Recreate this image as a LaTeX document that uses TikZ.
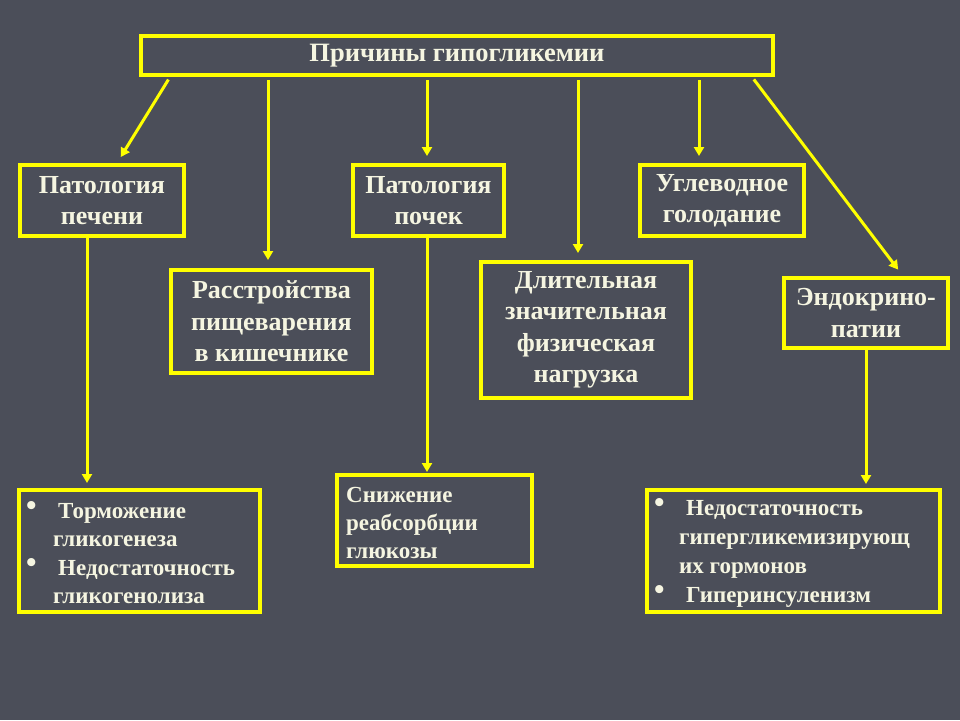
\documentclass[tikz,border=0pt]{standalone}
\usepackage{fontspec}
\setmainfont{Liberation Serif}
\usetikzlibrary{arrows.meta}
\definecolor{bg}{RGB}{75,78,89}
\definecolor{yel}{RGB}{255,255,0}
\definecolor{txt}{RGB}{245,245,225}
\newcommand{\bul}{\raisebox{3pt}{\fontsize{30}{30}\selectfont •}}
\begin{document}
\begin{tikzpicture}[x=1pt,y=-1pt,
  box/.style={draw=yel, line width=4pt, inner sep=0pt, text=txt, align=center,
    font=\fontsize{26}{31.5}\selectfont\bfseries},
  txtnode/.style={inner sep=0pt, text=txt, font=\fontsize{23}{28.5}\selectfont\bfseries},
  arr/.style={draw=yel, line width=3pt, -{Triangle[length=9pt,width=10pt]}}]
\fill[bg] (0,0) rectangle (960,720);
\useasboundingbox (0,0) rectangle (960,720);
% top
\node[box, minimum width=632pt, minimum height=39pt, font=\fontsize{26.5}{31}\selectfont\bfseries] (title) at (457,55.5) {Причины гипогликемии};
% level 1
\node[box, minimum width=164pt, minimum height=71pt] (pech) at (102,200.5) {Патология\\печени};
\node[box, minimum width=151pt, minimum height=71pt] (poch) at (428.5,200.5) {Патология\\почек};
\node[box, minimum width=164pt, minimum height=71pt] (uglev) at (722,200.5) {Углеводное\\голодание};
\node[box, minimum width=201pt, minimum height=103pt] (rasst) at (271.5,321.5) {Расстройства\\пищеварения\\в кишечнике};
\node[box, minimum width=210pt, minimum height=136pt] (dlit) at (586,330) {Длительная\\значительная\\физическая\\нагрузка};
\node[box, minimum width=164pt, minimum height=70pt] (endo) at (866,313) {Эндокрино-\\патии};
% bottom boxes
\node[box, minimum width=241pt, minimum height=122pt] (b1) at (139.5,551) {};
\node[box, minimum width=195pt, minimum height=91pt] (snizh) at (434.5,520.5) {};
\node[box, minimum width=293pt, minimum height=122pt] (b3) at (793.5,551) {};
\node[txtnode, anchor=base west] (b1t) at (26,518) {\begin{tabular}[t]{@{}p{27pt}@{}l@{}}
\bul & \hspace{5pt}Торможение\\
 & гликогенеза\\
\bul & \hspace{5pt}Недостаточность\\
 & гликогенолиза
\end{tabular}};
\node[txtnode, anchor=base west, font=\fontsize{23}{28}\selectfont\bfseries] (snizht) at (346,502) {\begin{tabular}[t]{@{}l@{}}
Снижение\\
реабсорбции\\
глюкозы
\end{tabular}};
\node[txtnode, anchor=base west, font=\fontsize{23}{29}\selectfont\bfseries] (b3t) at (654,515) {\begin{tabular}[t]{@{}p{25pt}@{}l@{}}
\bul & \hspace{7pt}Недостаточность\\
 & гипергликемизирующ\\
 & их гормонов\\
\bul & \hspace{7pt}Гиперинсуленизм
\end{tabular}};
% arrows from title
\draw[arr, shorten <=3pt, shorten >=7pt] (title.south -| 170,0) -- (pech.north -| 117,0);
\draw[arr, shorten <=3pt, shorten >=8pt] (title.south -| 268,0) -- (rasst.north -| 268,0);
\draw[arr, shorten <=3pt, shorten >=7pt] (title.south -| 427,0) -- (poch.north -| 427,0);
\draw[arr, shorten <=3pt, shorten >=7pt] (title.south -| 578,0) -- (dlit.north -| 578,0);
\draw[arr, shorten <=3pt, shorten >=7pt] (title.south -| 699,0) -- (uglev.north -| 699,0);
\draw[arr, shorten <=3pt, shorten >=8pt] (title.south -| 752,0) -- (endo.north -| 903,0);
% lower arrows
\draw[arr, shorten >=5pt] (pech.south -| 87,0) -- (b1.north -| 87,0);
\draw[arr, shorten >=1pt] (poch.south -| 427,0) -- (snizh.north -| 427,0);
\draw[arr, shorten >=4pt] (endo.south -| 866,0) -- (b3.north -| 866,0);
\end{tikzpicture}
\end{document}
